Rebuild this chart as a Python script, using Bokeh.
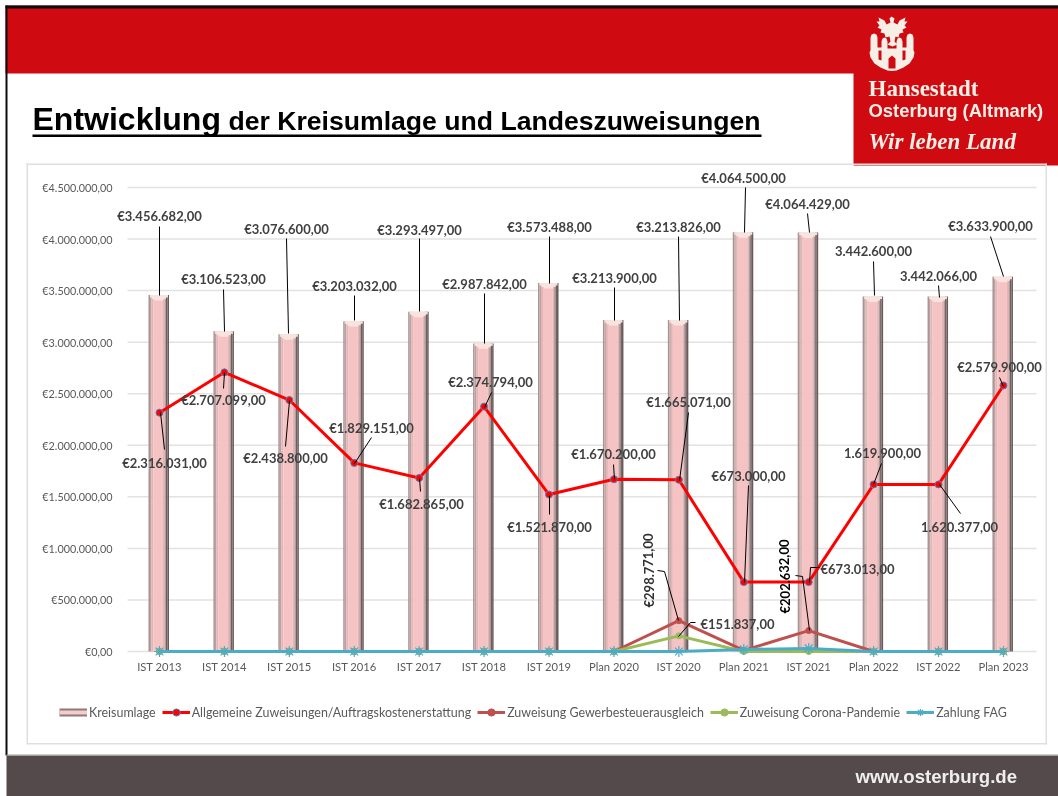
from bokeh.plotting import figure
from bokeh.embed import file_html
from bokeh.resources import INLINE
from bokeh.models import (Range1d, FixedTicker, Label, BoxAnnotation, PolyAnnotation, Legend, LegendItem)
from bokeh.core.properties import value

categories = ["IST 2013","IST 2014","IST 2015","IST 2016","IST 2017","IST 2018","IST 2019",
              "Plan 2020","IST 2020","Plan 2021","IST 2021","Plan 2022","IST 2022","Plan 2023"]
kreisumlage = [3456682,3106523,3076600,3203032,3293497,2987842,3573488,3213900,3213826,4064500,4064429,3442600,3442066,3633900]
zuweisungen = [2316031,2707099,2438800,1829151,1682865,2374794,1521870,1670200,1665071,673000,673013,1619900,1620377,2579900]
gewerbe = [0,0,0,0,0,0,0,0,298771,10000,202632,0,0,0]
corona = [0,0,0,0,0,0,0,0,151837,0,0,0,0,0]
fag = [0,0,0,0,0,0,0,0,0,20000,30000,0,0,0]
y_ticks = [0,500000,1000000,1500000,2000000,2500000,3000000,3500000,4000000,4500000]

def de(v, euro=True):
    s = f"{v:,.2f}".replace(",", "#").replace(".", ",").replace("#", ".")
    return ("€" if euro else "") + s

W, H = 1058, 796
CAT_PX = 64.92
X0_PX = 159.0
Y0_PX = 651.0
PX_PER_UNIT = 51.56 / 500000

def dx(px): return (px - X0_PX) / CAT_PX
def dy(py): return (Y0_PX - py) / PX_PER_UNIT

p = figure(width=W, height=H, output_backend="svg", toolbar_location=None,
           x_range=Range1d(dx(0), dx(W)), y_range=Range1d(dy(H), dy(0)),
           min_border_left=0, min_border_right=0, min_border_top=0, min_border_bottom=0,
           outline_line_color=None, background_fill_color="white", border_fill_color="white")
p.styles = {"position": "fixed", "left": "0px", "top": "0px"}
p.xgrid.visible = False
p.ygrid.visible = False

FONT = "Lato"
LBL = "#404040"
def box(l, r, t, b, color, level="underlay", **kw):
    p.add_layout(BoxAnnotation(left=l, right=r, top=t, bottom=b, left_units="canvas", right_units="canvas",
                               top_units="canvas", bottom_units="canvas", fill_color=color, fill_alpha=1,
                               line_color=None, level=level, **kw))
def poly(pts, color):
    p.add_layout(PolyAnnotation(xs=[a for a,_ in pts], ys=[b for _,b in pts], xs_units="canvas", ys_units="canvas",
                                fill_color=color, fill_alpha=1, line_color=None, level="underlay"))
def label(t, x, y, font, size, color, style="bold"):
    # canvas-unit labels land about 0.38 em below the requested baseline
    p.add_layout(Label(x=x, y=y - 0.38*size, x_units="canvas", y_units="canvas", text=t, text_font=font, text_font_size=f"{size}px",
                       text_font_style=style, text_color=color, text_baseline="alphabetic", text_align="left"))

RED = "#d00a11"
box(5, W, 5, 73, RED)
box(853, W, 72, 165, RED)
box(5, W, 5, 8, "#0c0c0c")
box(5, 7, 5, 755, "#0c0c0c")
box(6, W, 755, H, "#544a4c")
box(6, W, 754, 755, "#a09a9a")
# card
CARD = "#dfdfdf"
box(26, 1046, 163, 164.5, CARD)
box(26, 1046, 742.5, 744, CARD)
box(26, 27.5, 163, 744, CARD)
box(1045, 1046.5, 163, 744, CARD)
# title
label("Entwicklung", 32, 131, "Liberation Sans", 32, "#000000")
label("der Kreisumlage und Landeszuweisungen", 228, 131, "Liberation Sans", 26.6, "#000000")
box(32, 761, 134, 136.5, "#000000")
# header text
CREAM = "#f6efe6"
label("Hansestadt", 868, 97, "Liberation Serif", 23, CREAM)
label("Osterburg (Altmark)", 868, 117, "Liberation Sans", 18.4, CREAM)
label("Wir leben Land", 868, 150, "Liberation Serif", 23, CREAM, "bold italic")
label("www.osterburg.de", 855, 783, "Liberation Sans", 18.6, "#efefef")
# crest
poly([(891,16),(894,18),(893,22),(897,24),(899,20),(905,17),(904,21),(907,21),(904,25),(906,27),(902,29),(903,32),(899,33),(898,37),(895,36),(894,41),(897,44),(892,46),(887,44),(890,41),(889,36),(885,37),(884,33),(880,32),(881,29),(877,27),(879,25),(876,21),(879,21),(878,17),(884,20),(886,24),(890,22),(889,18)], CREAM)
poly([(870,37),(871,34),(873.5,33),(876,34),(877,37),(877,47),(881,47),(881,41),(882,38),(884,37),(886,38),(887,41),(887,48),(896,48),(896,41),(897,38),(899,37),(901,38),(902,41),(902,47),(906,47),(906,37),(907,34),(909.5,33),(912,34),(913,37),(913,50),(914,52),(913,57),(909,63),(903,67),(896,70),(891.5,70.5),(887,70),(880,67),(874,63),(870,57),(869,52),(870,50)], CREAM)
poly([(888,68),(888,58),(891.5,55),(895,58),(895,68)], RED)
poly([(878,50),(881,50),(881,60),(878,59)], RED)
poly([(902,50),(905,50),(905,59),(902,60)], RED)

# axes sit inside the page-filling frame
xa, ya = p.xaxis[0], p.yaxis[0]
xa.fixed_location = dy(651)
ya.fixed_location = dx(127)
xa.ticker = FixedTicker(ticks=list(range(len(categories))))
xa.major_label_overrides = {i: c for i, c in enumerate(categories)}
xa.axis_line_color = None
xa.major_tick_line_color = None
xa.minor_tick_line_color = None
xa.major_label_standoff = 2
xa.major_label_text_font = FONT
xa.major_label_text_font_size = "11.2px"
xa.major_label_text_color = "#595959"
ya.ticker = FixedTicker(ticks=y_ticks)
ya.major_label_overrides = {t: de(t) for t in y_ticks}
ya.axis_line_color = None
ya.major_tick_line_color = None
ya.minor_tick_line_color = None
ya.major_label_standoff = 9
ya.major_label_text_font = FONT
ya.major_label_text_font_size = "10.8px"
ya.major_label_text_color = "#595959"

# gridlines stop at the last category slot
p.segment(x0=[dx(127)]*len(y_ticks), x1=[dx(1036)]*len(y_ticks), y0=y_ticks, y1=y_ticks, line_color="#e2e2e2", line_width=1.5)

# bars as bevelled strips
strips = [(-11,-9.5,"#a99494"),(-9.5,-8,"#bfa0a0"),(-8,-6,"#e2b6b6"),(-6,3.5,"#f6c3c4"),(3.5,5,"#e3b5b5"),(5,6.5,"#b79a9a"),(6.5,8,"#6f5f5f"),(8,9.5,"#6a5a5a")]
xs = list(range(len(categories)))
for a, b, c in strips:
    p.vbar(x=[i + (a+b)/2/CAT_PX for i in xs], width=(b-a)/CAT_PX, top=kreisumlage, bottom=0, fill_color=c, line_color=None)
for w, h in [(18, 2.5), (14, 4), (9, 5.5)]:
    p.vbar(x=[i - 0.5/CAT_PX for i in xs], width=w/CAT_PX, top=kreisumlage, bottom=[v - h/PX_PER_UNIT for v in kreisumlage], fill_color="#f9e3df", line_color=None)
# legend swatch only: zero-length lines
key_outer = p.line([0, 0], [0, 0], line_color="#8f7878", line_width=8)
key_inner = p.line([0, 0], [0, 0], line_color="#f4cccc", line_width=4)

# lines
def series(vals, color, width, marker, msize, mline, mwidth=1):
    l = p.line(xs, vals, line_color=color, line_width=width, line_join="round")
    m = p.scatter(xs, vals, marker=marker, size=msize, fill_color=color, line_color=mline, line_width=mwidth)
    return [l, m]
r_zuw = series(zuweisungen, "#ff0000", 3, "circle", 7, "#4f81bd")
r_gew = series(gewerbe, "#c0504d", 3, "circle", 6, "#c0504d")
r_cor = series(corona, "#9bbb59", 3, "circle", 6, "#9bbb59")
r_fag = series(fag, "#4bacc6", 3, "asterisk", 11, "#4bacc6", 1.2)

# data labels
k_pos = [(159,215),(223,278),(286,228),(354,285),(419,229),(484,283),(549,226),(614,277),(678,226),(743,177),(807,203),(873,250),(938,275),(990,225)]
k_lead = [[(159,226),(159,295)],[(223,289),(224,331)],[(286,238),(288,333)],[(354,295),(354,320)],[(419,238),(419,311)],[(484,293),(484,343)],[(549,236),(549,283)],[(614,287),(614,320)],[(678,236),(679,320)],[(745,187),(744,232)],[(807,213),(809,232)],[(873,261),(874,295)],[(938,285),(939,297)],[(990,236),(1003,276)]]
z_pos = [(164,462),(223,399),(285,457),(371,427),(421,503),(490,381),(549,526),(613,453),(688,401),(748,475),(857,568),(882,452),(959,526),(999,366)]
z_lead = [[(160,412),(164,449)],[(224,372),(223,388)],[(289,400),(285,446)],[(354,463),(371,437)],[(419,478),(420,491)],[(484,407),(491,392)],[(549,495),(549,514)],[(614,479),(613,464)],[(679,480),(688,412)],[(744,582),(748,485)],[(809,582),(810,567),(819,567)],[(873,484),(881,463)],[(939,484),(960,513)],[(1003,386),(999,377)]]
other_lead = [[(678,620),(664,571),(657,570)],[(809,630),(802,576),(795,575)],[(678,636),(690,622),(695,622)]]
for pts in k_lead + z_lead + other_lead:
    p.line([dx(a) for a,_ in pts], [dy(b) for _,b in pts], line_color="#000000", line_width=1)

LSIZE = "13px"
def texts(ts, pos, color=LBL, angle=0):
    p.text(x=[dx(a) for a,_ in pos], y=[dy(b) for _,b in pos], text=ts, angle=angle, text_font=value(FONT), text_font_size=value(LSIZE),
           text_font_style="bold", text_color=color, text_align="center", text_baseline="middle")
texts([de(v, i not in (11,12)) for i, v in enumerate(kreisumlage)], k_pos)
texts([de(v, i not in (11,12)) for i, v in enumerate(zuweisungen)], z_pos)
texts([de(gewerbe[8])], [(648,570)], "#303030", 1.5708)
texts([de(gewerbe[10])], [(784,576)], "#000000", 1.5708)
texts([de(corona[8])], [(737,623)])

legend = Legend(items=[LegendItem(label="Kreisumlage", renderers=[key_outer, key_inner]),
                       LegendItem(label="Allgemeine Zuweisungen/Auftragskostenerstattung", renderers=r_zuw),
                       LegendItem(label="Zuweisung Gewerbesteuerausgleich", renderers=r_gew),
                       LegendItem(label="Zuweisung Corona-Pandemie", renderers=r_cor),
                       LegendItem(label="Zahlung FAG", renderers=r_fag)],
                orientation="horizontal", location=(59, H-721), background_fill_alpha=0, border_line_color=None,
                glyph_width=28, glyph_height=18, label_standoff=2, spacing=6, padding=0, margin=0,
                label_text_font=FONT, label_text_font_size="12.45px", label_text_color="#595959", label_height=14)
p.add_layout(legend)

open("out.html", "w").write(file_html(p, INLINE))
